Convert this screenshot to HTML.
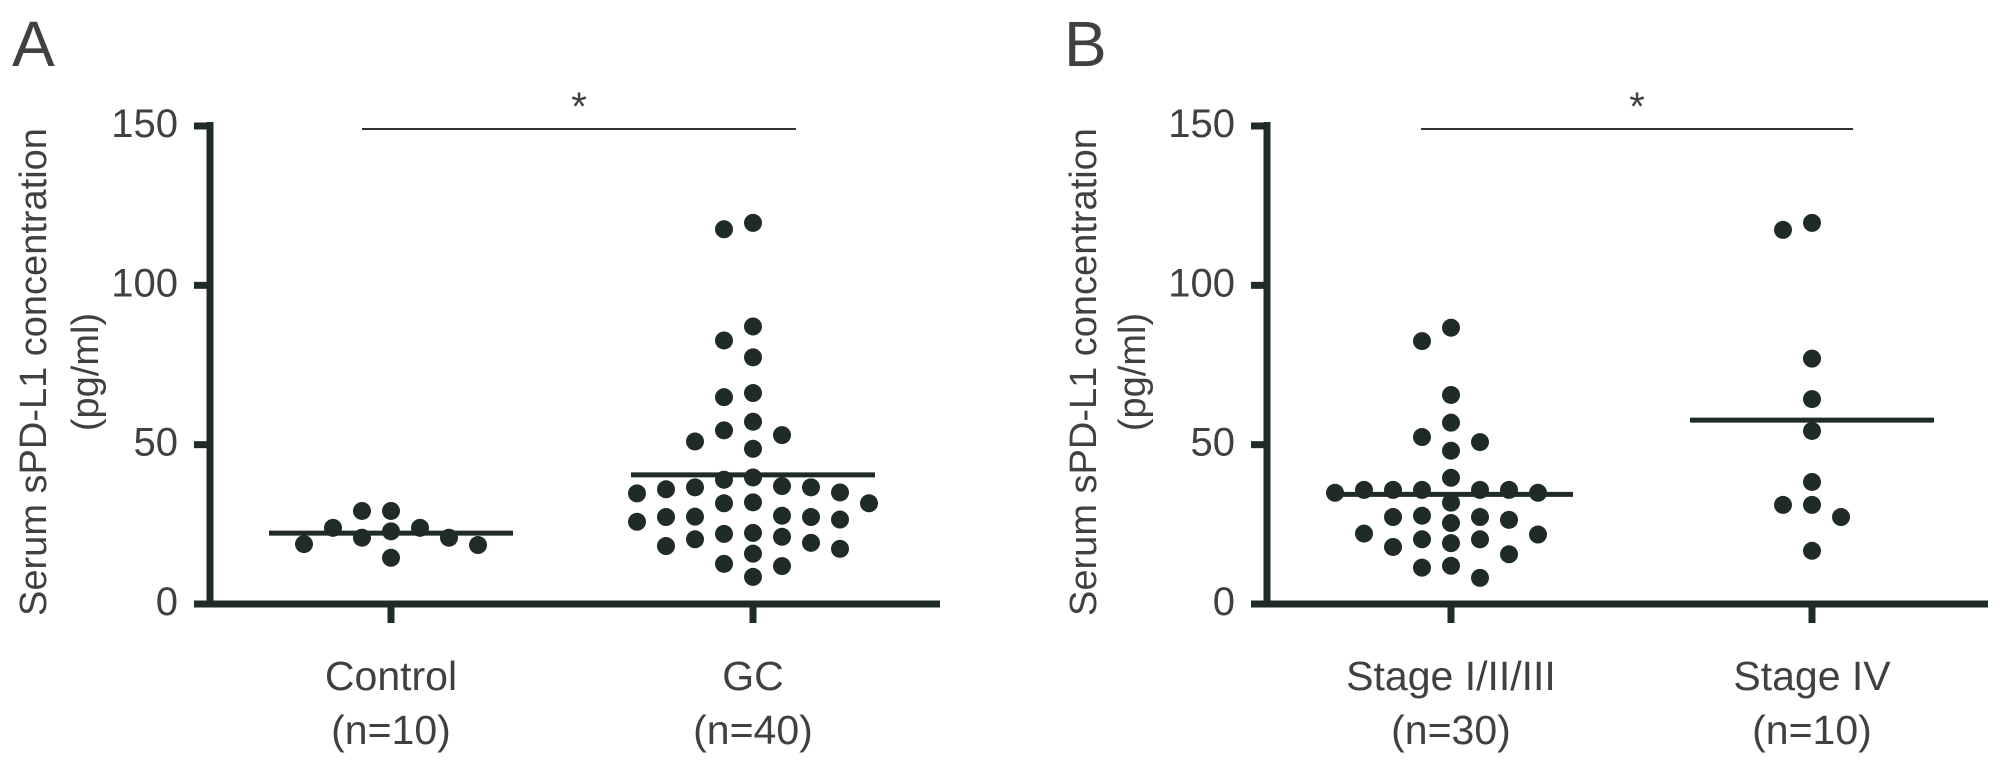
<!DOCTYPE html>
<html><head><meta charset="utf-8">
<style>
html,body{margin:0;padding:0;background:#fff;}
svg{display:block;}
text{font-family:"Liberation Sans",Arial,sans-serif;fill:#404040;}
</style></head>
<body>
<svg id="chart" width="2008" height="771" viewBox="0 0 2008 771" xmlns="http://www.w3.org/2000/svg"></svg>
<script>
// Panel A data
const catsA = ["Control", "GC"];
const nLabelsA = ["(n=10)", "(n=40)"];
const controlValues = [29.2, 29.2, 23.9, 23.9, 22.8, 20.8, 20.8, 18.8, 18.5, 14.5];
const gcValues = [119.6, 117.6, 87.1, 82.7, 77.4, 66.2, 64.9, 57.2, 54.5, 53, 51, 48.7, 39.7, 39, 37, 36.6, 36.6, 36, 35, 34.7, 31.9, 31.6, 31.6, 27.7, 27.4, 27.3, 27.3, 26.5, 25.8, 22.3, 22, 21.1, 20.3, 19.2, 18.2, 17.3, 15.8, 12.6, 11.9, 8.5];
// Panel B data
const catsB = ["Stage I/II/III", "Stage IV"];
const nLabelsB = ["(n=30)", "(n=10)"];
const stage123Values = [86.7, 82.5, 65.6, 56.9, 52.4, 50.8, 48.1, 39.6, 35.8, 35.8, 35.8, 35.8, 35.8, 34.9, 34.9, 31.8, 27.7, 27.3, 27.3, 26.4, 25.4, 22.1, 21.8, 20.3, 20.3, 19.1, 17.9, 15.6, 12, 11.4, 8.2];
const stage4Values = [119.6, 117.4, 77, 64.3, 54.3, 38.3, 31.1, 31.1, 27.3, 16.7];
const yTicks = [0, 50, 100, 150];

const NS = "http://www.w3.org/2000/svg";
const svg = document.getElementById("chart");
const INK = "#1f2b27";
function mk(tag, attrs, parent) {
  const e = document.createElementNS(NS, tag);
  for (const k in attrs) e.setAttribute(k, attrs[k]);
  (parent || svg).appendChild(e);
  return e;
}
const Y0 = 604, Y150 = 126;
function yScale(v) { return Y0 - (v / 150) * (Y0 - Y150); }

function beeswarm(values, cx) {
  const placed = [];
  const step = 14.5;
  values.forEach(v => {
    const y = yScale(v);
    let x = cx;
    for (let i = 0; i < 60; i++) {
      const off = (i === 0) ? 0 : (i % 2 === 1 ? -1 : 1) * Math.ceil(i / 2) * step;
      x = cx + off;
      if (!placed.some(p => Math.abs(p.x - x) < 28 && Math.abs(p.y - y) < 20)) break;
    }
    placed.push({x, y, v});
  });
  return placed;
}
function mean(a) { return a.reduce((s, v) => s + v, 0) / a.length; }

function panel(cfg) {
  const g = mk("g", {});
  
  
  const letter = mk("text", {x: cfg.letterX, y: 66, "font-size": 64, fill: "#111"}, g);
  letter.textContent = cfg.letter;
  
  
  const t1 = mk("text", {transform: `translate(${cfg.titleX1},372) rotate(-90)`, "text-anchor": "middle", "font-size": 38}, g);
  t1.textContent = "Serum sPD-L1 concentration";
  
  
  const t2 = mk("text", {transform: `translate(${cfg.titleX2},372) rotate(-90)`, "text-anchor": "middle", "font-size": 38}, g);
  t2.textContent = "(pg/ml)";
  
  
  const ya = mk("line", {x1: cfg.axX, y1: 122, x2: cfg.axX, y2: Y0 + 3.5, stroke: INK, "stroke-width": 7}, g);
  
  
  const xa = mk("line", {x1: cfg.axX - 16, y1: Y0, x2: cfg.axEnd, y2: Y0, stroke: INK, "stroke-width": 7}, g);
  
  
  yTicks.forEach(t => {
    const y = yScale(t);
    const tk = mk("line", {x1: cfg.axX - 16, y1: y, x2: cfg.axX, y2: y, stroke: INK, "stroke-width": 7}, g);
    
    
    const tl = mk("text", {x: cfg.axX - 32, y: y + 11, "text-anchor": "end", "font-size": 40}, g);
    tl.textContent = t;
    
    
  });
  cfg.cats.forEach((c, i) => {
    const cx = cfg.catX[i];
    const tk = mk("line", {x1: cx, y1: Y0, x2: cx, y2: 623, stroke: INK, "stroke-width": 7}, g);
    
    
    const l1 = mk("text", {x: cx, y: 690, "text-anchor": "middle", "font-size": 41}, g);
    l1.textContent = c;
    
    
    const l2 = mk("text", {x: cx, y: 744, "text-anchor": "middle", "font-size": 41}, g);
    l2.textContent = cfg.ns[i];
    
    
    const pts = beeswarm(cfg.series[i], cx);
    pts.forEach(p => {
      const d = mk("circle", {cx: p.x, cy: p.y, r: 9, fill: INK}, g);
      
      
    });
    const m = yScale(mean(cfg.series[i]));
    const ml = mk("line", {x1: cx - 122, y1: m, x2: cx + 122, y2: m, stroke: INK, "stroke-width": 5}, g);
    
    
  });
  const sl = mk("line", {x1: cfg.sig[0], y1: 129, x2: cfg.sig[1], y2: 129, stroke: "#333", "stroke-width": 2}, g);
  
  
  const st = mk("text", {x: (cfg.sig[0] + cfg.sig[1]) / 2, y: 120, "text-anchor": "middle", "font-size": 40}, g);
  st.textContent = "*";
  
  
}

panel({name: "panel-a", letter: "A", letterX: 12, titleX1: 46, titleX2: 98, axX: 210, axEnd: 940,
  cats: catsA, ns: nLabelsA, catX: [391, 753], series: [controlValues, gcValues], sig: [362, 796]});
panel({name: "panel-b", letter: "B", letterX: 1064, titleX1: 1096, titleX2: 1145, axX: 1267, axEnd: 1988,
  cats: catsB, ns: nLabelsB, catX: [1451, 1812], series: [stage123Values, stage4Values], sig: [1421, 1853]});
</script>
</body></html>
